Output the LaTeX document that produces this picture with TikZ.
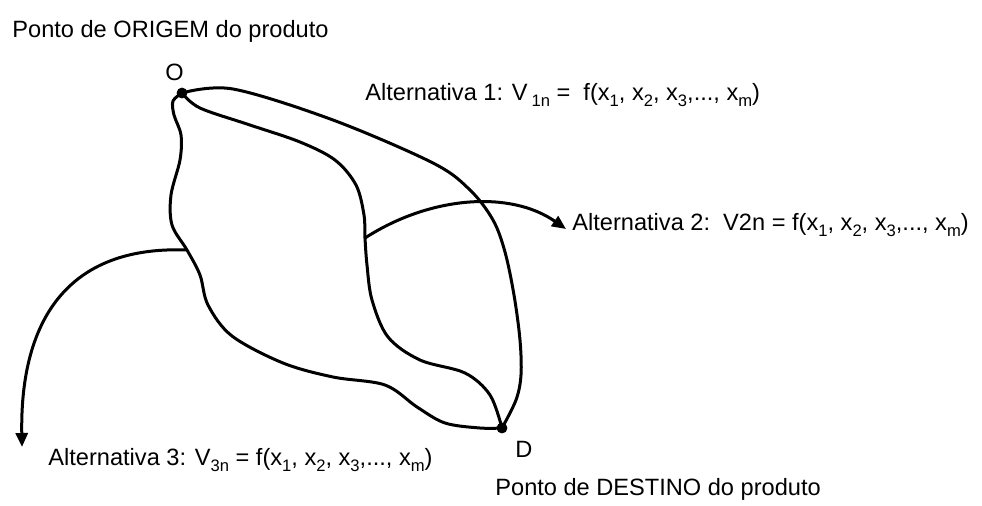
\documentclass[tikz,border=0pt]{standalone}
\usepackage{fontspec}
\setmainfont{Liberation Sans}
\usetikzlibrary{arrows.meta,positioning}
\newcommand{\idx}[1]{\raisebox{-0.55ex}{\fontsize{8.3}{9}\selectfont #1}}
\tikzset{
  vert/.style={
    inner sep = 0pt,
    minimum size = 5pt,
    shape = circle,
    draw,
    fill
  },
  route/.style={
    line width = 1.5pt,
    line cap=round,
    line join=round
  },
  alt/.style={
    route,
    -{Triangle[length=7pt,width=6pt]}
  },
  lbl/.style={
    anchor = base west,
    inner sep = 0pt
  },
  every picture/.style = {
    font=\fontsize{11.8}{14}\selectfont
  }
}
\begin{document}
\begin{tikzpicture}[x=0.5pt,y=-0.5pt]
\useasboundingbox (0,0) rectangle (982,505);
\node[vert] (O) at (182,93) {};
\node[vert] (D) at (502,428) {};
\node[lbl] (oLab) at (165,80) {O};
\node[lbl] (dLab) at (515,457) {D};
\node[lbl] (origem) at (12,37) {Ponto de ORIGEM do produto};
\node[lbl] (destino) at (495,495) {Ponto de DESTINO do produto};
\node[lbl] (alt1) at (365,100) {Alternativa 1: V\,\idx{1n} =\ \ f(x\idx{1}, x\idx{2}, x\idx{3},..., x\idx{m})};
\node[lbl] (alt2) at (572,230) {Alternativa 2:\ \ V2n = f(x\idx{1}, x\idx{2}, x\idx{3},..., x\idx{m})};
\node[lbl] (alt3) at (48,465) {Alternativa 3: V\idx{3n} = f(x\idx{1}, x\idx{2}, x\idx{3},..., x\idx{m})};
\coordinate (b2) at (365,238);
\coordinate (b3) at (187,250);
\coordinate (t2) at (566,229);
\coordinate (t3) at (22,447);
% the three routes from O to D
\draw[route] plot[smooth, tension=0.55] coordinates {(O.center) (233,89) (333,120) (433,163) (470,190) (493,220) (505,252) (514,295) (520,340) (521,375) (516,400) (D.center)};
\draw[route] plot[smooth, tension=0.55] coordinates {(O.center) (200,108) (250,125) (300,142) (335,160) (356,185) (364,215) (b2) (367,265) (372,300) (388,337) (420,360) (465,373) (490,395) (D.center)};
\draw[route] plot[smooth, tension=0.55] coordinates {(O.center) (173,101) (174,115) (181,135) (180,160) (171,195) (172,225) (b3) (200,275) (208,305) (232,336) (283,363) (333,377) (385,385) (417,407) (445,423) (480,428) (D.center)};
\draw[alt] (b2) .. controls (430,196) and (510,190) .. (t2);
\draw[alt] (b3) .. controls (60,245) and (20,330) .. (t3);
\end{tikzpicture}
\end{document}
